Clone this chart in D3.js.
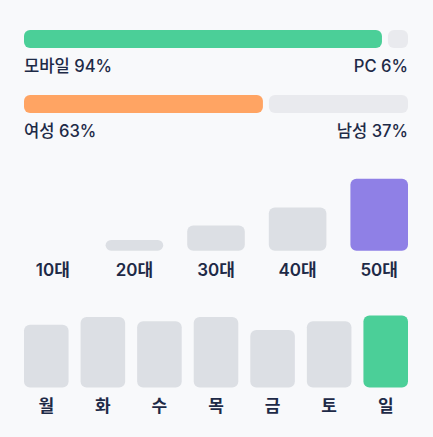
<!DOCTYPE html>
<html>
<head>
<meta charset="utf-8">
<script src="https://cdn.jsdelivr.net/npm/d3@7"></script>
<style>
  html, body { margin: 0; padding: 0; background: #f8f9fb; }
  svg { display: block; font-family: Inter, "Noto Sans CJK KR", sans-serif; }
</style>
</head>
<body>
<div id="chart"></div>
<script>
// share rows
const deviceNames = ["모바일", "PC"];
const deviceShare = [94, 6];
const genderNames = ["여성", "남성"];
const genderShare = [63, 37];

// age groups
const ageLabels = ["10대", "20대", "30대", "40대", "50대"];
const ageValues = [0, 6, 14, 24, 40];

// weekdays
const dayLabels = ["월", "화", "수", "목", "금", "토", "일"];
const dayValues = [87, 98, 92, 98, 80, 92, 100];

const W = 433, H = 437;
const left = 24, right = 408;
const textColor = "#1e2a47";

const svg = d3.select("#chart").append("svg")
    .attr("width", W)
    .attr("height", H);

// Split bars
const x = d3.scaleLinear().domain([0, 100]).range([0, right - left]);
const gap = 6;

function shareRow(names, shares, color, barY, labelY) {
    const w0 = x(shares[0]) - gap / 2;
    const w1 = x(shares[1]) - gap / 2;
    svg.append("rect")
        .attr("x", left).attr("y", barY)
        .attr("width", w0).attr("height", 18)
        .attr("rx", 6)
        .attr("fill", color);
    svg.append("rect")
        .attr("x", right - w1).attr("y", barY)
        .attr("width", w1).attr("height", 18)
        .attr("rx", 6)
        .attr("fill", "#e9eaee");

    svg.append("text")
        .attr("x", left).attr("y", labelY)
        .attr("font-size", "16.6px").attr("font-weight", 500)
        .attr("fill", textColor)
        .text(`${names[0]} ${shares[0]}%`);
    svg.append("text")
        .attr("x", right).attr("y", labelY)
        .attr("text-anchor", "end")
        .attr("font-size", "16.6px").attr("font-weight", 500)
        .attr("fill", textColor)
        .text(`${names[1]} ${shares[1]}%`);
}

shareRow(deviceNames, deviceShare, "#4bcf98", 30, 72);
shareRow(genderNames, genderShare, "#ffa463", 95, 136.5);

// Column charts
function columns(labels, values, bandPad, base, maxH, hiColor, labelY) {
    const bx = d3.scaleBand()
        .domain(labels)
        .range([left, right])
        .paddingInner(bandPad);
    const h = d3.scaleLinear()
        .domain([0, d3.max(values)])
        .range([0, maxH]);
    const top = d3.max(values);

    const g = svg.append("g");
    g.selectAll("rect")
        .data(labels)
        .join("rect")
        .attr("x", d => bx(d))
        .attr("y", (d, i) => base - h(values[i]))
        .attr("width", bx.bandwidth())
        .attr("height", (d, i) => h(values[i]))
        .attr("rx", (d, i) => Math.min(6, h(values[i]) / 2))
        .attr("fill", (d, i) => values[i] === top ? hiColor : "#dcdfe4")
        .style("display", (d, i) => values[i] > 0 ? null : "none");

    g.selectAll("text")
        .data(labels)
        .join("text")
        .attr("x", d => bx(d) + bx.bandwidth() / 2)
        .attr("y", labelY)
        .attr("text-anchor", "middle")
        .attr("font-size", "17px")
        .attr("font-weight", 600)
        .attr("fill", textColor)
        .text(d => d);
}

// age: 5 columns, 24px gap
columns(ageLabels, ageValues, 24 / 81.6, 250.7, 72, "#8f80e6", 275.5);
// days: 7 columns, 12px gap
columns(dayLabels, dayValues, 12 / 56.57, 387.5, 72, "#4bcf98", 412);
</script>
</body>
</html>
